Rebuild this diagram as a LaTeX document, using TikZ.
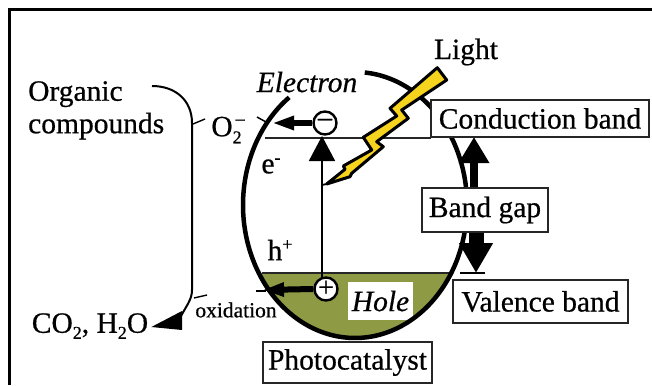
\documentclass[tikz,border=0pt]{standalone}
\usepackage{fontspec}
\setmainfont{Liberation Serif}[FakeBold=0.6]
\usetikzlibrary{arrows.meta}
\definecolor{olivefill}{HTML}{8F9A45}
\definecolor{boltfill}{HTML}{F6D31C}
\newcommand{\fs}[1]{\fontsize{#1}{#1}\selectfont}
\tikzset{
  lbl/.style={inner sep=0pt,font=\fs{29.5}},
  boxed/.style={draw=black!85,line width=1.6pt,fill=white,inner sep=0pt,font=\fs{29.5}},
  ring/.style={circle,draw=black,line width=2.4pt,fill=white,minimum size=23pt,inner sep=0pt},
  shell/.style={line width=4.5pt,black},
  level/.style={line width=1.8pt,black!85},
  bigarrow/.style={line width=8pt,-{Triangle[length=26pt,width=29pt]}},
  flowarrow/.style={line width=6pt,-{Triangle[length=22pt,width=13pt]}},
  thin link/.style={line width=1.8pt,black},
  curve/.style={line width=2pt,black}
}
\begin{document}
\begin{tikzpicture}[x=1pt,y=-1pt]
\useasboundingbox (0,0) rectangle (652,385);
\fill[white] (0,0) rectangle (652,385);
% frame
\draw[line width=3.5pt] (9.5,385) -- (9.5,9.5) -- (652,9.5);
% valence fill
\fill[olivefill] plot[domain=30.7:149.3,samples=50] ({355+112*cos(\x)},{205+133*sin(\x)}) -- cycle;
% levels
\coordinate (cbL) at (265,138); \coordinate (cbR) at (431,138);
\coordinate (vbL) at (262,273); \coordinate (vbR) at (450,273);
\draw[level] (cbL) -- (cbR);
\draw[level] (vbL) -- (vbR);
% hole label
\node[fill=white,minimum width=65pt,minimum height=38pt,inner sep=0pt,font=\fs{29.5}\itshape] (hole) at (380.5,301) {Hole};
% shell
\draw[shell] plot[domain=-85:234,samples=120,smooth] ({355+112*cos(\x)},{205+133*sin(\x)});
% charges
\node[ring] (minus) at (325,123) {\fs{28}\raisebox{1pt}{--}};
\node[ring] (plus) at (326,289) {\fs{28}\raisebox{1pt}{+}};
% vertical excitation
\coordinate (boltend) at (322,185);
\coordinate (vlow) at (322,278);
\coordinate (vtop) at (322,136);
\draw[thin link] (vlow) -- (boltend);
\draw[line width=1.8pt,-{Triangle[length=25pt,width=26pt]}] (boltend) -- (vtop);
% flows
\coordinate (oxTip) at (272,123);
\coordinate (hoTip) at (262,290);
\draw[flowarrow] (minus.west) -- (oxTip);
\draw[flowarrow] (plus.west) -- (hoTip);
\coordinate (tickAa) at (257,117); \coordinate (tickAb) at (266,122);
\draw[line width=1.5pt] (tickAa) -- (tickAb);
\coordinate (tickBa) at (256,291); \coordinate (tickBb) at (266,291);
\draw[line width=1.5pt] (tickBa) -- (tickBb);
% bolt
\draw[line width=3pt,line join=round,fill=boltfill] (437.3,67.7) -- (390,108.3) -- (396.7,116) -- (363.3,137.3) -- (371.7,150) -- (343.3,166) -- (345,169.3) -- (326.7,184) -- (350,176.7) -- (351.7,173.3) -- (383.3,146.7) -- (376.7,141.7) -- (408.3,118.3) -- (401.7,110) -- (446.7,80) -- cycle;
\draw[thin link] (326.7,184) -- (boltend);
% band gap arrows
\coordinate (upA) at (474,190); \coordinate (upB) at (474,137);
\coordinate (dnA) at (476,231); \coordinate (dnB) at (476,273);
\draw[bigarrow] (upA) -- (upB);
\draw[line width=15pt,-{Triangle[length=30pt,width=32pt]}] (dnA) -- (dnB);
\coordinate (dashL) at (460,273); \coordinate (dashR) at (485,273);
\draw[line width=1.2pt] (dashL) -- (dashR);
% boxes
\node[boxed,minimum width=218pt,minimum height=37pt] (cond) at (540,118.5) {Conduction band};
\node[boxed,minimum width=126pt,minimum height=44pt] (gap) at (485,210) {Band gap};
\node[boxed,minimum width=175pt,minimum height=43pt] (val) at (540.5,301.5) {Valence band};
\node[boxed,minimum width=169pt,minimum height=41pt] (cat) at (347.5,362.5) {Photocatalyst};
% labels
\node[lbl] (light) at (466,52) {Light};
\node[lbl,font=\fs{29.5}\itshape] (elec) at (307,82) {Electron};
\node[lbl,align=left,anchor=north west] (org) at (28,81) {Organic\\[3pt]compounds};
\node[lbl] (otwo) at (228,130) {O\rlap{\raisebox{-7pt}{\fs{18}2}}\raisebox{12pt}{\fs{18}\,--}};
\node[lbl] (eminus) at (271,166) {e\raisebox{10pt}{\fs{18}-}};
\node[lbl] (hplus) at (280,250) {h\raisebox{10pt}{\fs{18}+}};
\node[lbl,font=\fs{21.5}] (oxi) at (236,310) {oxidation};
\node[lbl] (prod) at (90,326) {CO\raisebox{-6pt}{\fs{18}2}, H\raisebox{-6pt}{\fs{18}2}O};
% bracket
\coordinate (brTop) at (152,86);
\coordinate (brMid) at (192,123);
\coordinate (brLow) at (192,290);
\coordinate (brEnd) at (180,318);
\draw[curve] (brTop) .. controls (175,86) and (192,100) .. (brMid) -- (brLow) .. controls (192,300) and (186,306) .. (brEnd);
\coordinate (brTa) at (193,124); \coordinate (brTb) at (205,119);
\draw[line width=1.4pt] (brTa) -- (brTb);
\coordinate (brLa) at (194,298); \coordinate (brLb) at (207,295);
\draw[line width=1.4pt] (brLa) -- (brLb);
\fill (prod.east) ++(3,1) -- (182,311) -- (182,330) -- cycle;
\end{tikzpicture}
\end{document}
